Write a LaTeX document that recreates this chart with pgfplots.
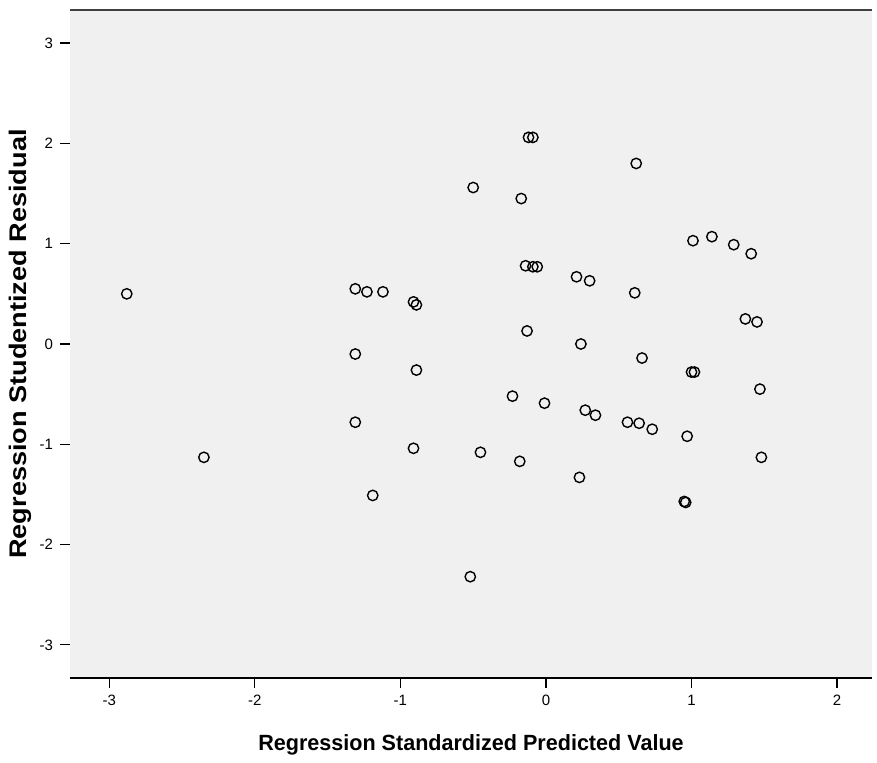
\documentclass[border=0pt]{standalone}
\usepackage{pgfplots}
\pgfplotsset{compat=1.18}
\usepackage{fontspec}
\setmainfont{Liberation Sans}
\definecolor{bggray}{RGB}{240,240,240}

\begin{document}
\begin{tikzpicture}
\begin{axis}[
    scale only axis,
    width=401pt, height=334pt,
    xmin=-3.27, xmax=2.24,
    ymin=-3.33, ymax=3.33,
    axis background/.style={fill=bggray},
    axis line style={draw=none},
    xtick={-3,-2,-1,0,1,2},
    ytick={-3,-2,-1,0,1,2,3},
    xtick pos=bottom, ytick pos=left,
    tick align=outside,
    major tick length=5pt,
    tick style={black, line width=0.6pt},
    ticklabel style={font=\fontsize{7.5}{8}\selectfont},
    /pgf/number format/assume math mode=true,
    xlabel={\scalebox{0.98}[1]{\bfseries Regression Standardized Predicted Value}},
    ylabel={\scalebox{1.13}[1]{\bfseries Regression Studentized Residual}},
    xlabel style={font=\fontsize{11}{13}\selectfont, at={(axis description cs:0.5,0)}, anchor=center, yshift=-33.5pt},
    ylabel style={font=\fontsize{12}{14}\selectfont, at={(axis description cs:0,0.5)}, anchor=center, yshift=25pt},
    clip=false,
]
\addplot[only marks, mark=o, mark size=2.6pt, mark options={black, line width=0.7pt}]
coordinates {
(-2.88,0.50) (-2.35,-1.13)
(-1.31,0.55) (-1.23,0.52) (-1.12,0.52) (-1.31,-0.10) (-1.31,-0.78) (-1.19,-1.51)
(-0.91,0.42) (-0.89,0.39) (-0.89,-0.26) (-0.91,-1.04)
(-0.50,1.56) (-0.45,-1.08) (-0.52,-2.32)
(-0.12,2.06) (-0.09,2.06) (-0.17,1.45)
(-0.14,0.78) (-0.09,0.77) (-0.06,0.77) (-0.13,0.13)
(-0.23,-0.52) (-0.01,-0.59) (-0.18,-1.17)
(0.21,0.67) (0.30,0.63) (0.24,0.00)
(0.27,-0.66) (0.34,-0.71) (0.23,-1.33)
(0.62,1.80) (0.61,0.51) (0.66,-0.14)
(0.56,-0.78) (0.64,-0.79) (0.73,-0.85)
(1.01,1.03) (1.14,1.07) (1.29,0.99) (1.41,0.90)
(1.37,0.25) (1.45,0.22)
(1.00,-0.28) (1.02,-0.28) (1.47,-0.45)
(0.97,-0.92) (1.48,-1.13) (0.96,-1.58) (0.95,-1.57)
};
\draw[black, line width=0.9pt] (rel axis cs:0,0) -- (rel axis cs:1,0);
\draw[black!75, line width=1pt] (rel axis cs:0,1) -- (rel axis cs:1,1);
\coordinate (bl) at (rel axis cs:0,0);
\coordinate (tr) at (rel axis cs:1,1);
\end{axis}
\path ([shift={(-35pt,-42.5pt)}]bl) rectangle ([shift={(2.5pt,5pt)}]tr);
\end{tikzpicture}
\end{document}
